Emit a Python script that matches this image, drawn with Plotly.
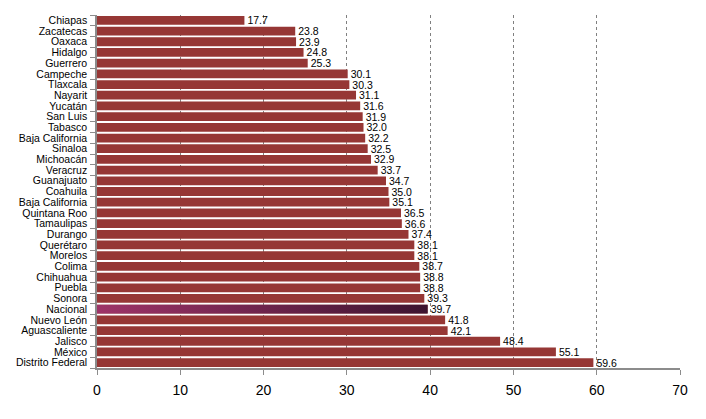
import plotly.graph_objects as go

states = ["Chiapas", "Zacatecas", "Oaxaca", "Hidalgo", "Guerrero", "Campeche", "Tlaxcala",
          "Nayarit", "Yucatán", "San Luis", "Tabasco", "Baja California", "Sinaloa", "Michoacán",
          "Veracruz", "Guanajuato", "Coahuila", "Baja California", "Quintana Roo", "Tamaulipas",
          "Durango", "Querétaro", "Morelos", "Colima", "Chihuahua", "Puebla", "Sonora",
          "Nacional", "Nuevo León", "Aguascaliente", "Jalisco", "México", "Distrito Federal"]
values = [17.7, 23.8, 23.9, 24.8, 25.3, 30.1, 30.3, 31.1, 31.6, 31.9, 32.0, 32.2, 32.5, 32.9,
          33.7, 34.7, 35.0, 35.1, 36.5, 36.6, 37.4, 38.1, 38.1, 38.7, 38.8, 38.8, 39.3,
          39.7, 41.8, 42.1, 48.4, 55.1, 59.6]
highlight = "Nacional"

idx = list(range(len(states)))
BAR_W = 0.82
base_color = "#963735"
FONT = "Liberation Sans, Arial"

fig = go.Figure()
fig.add_trace(go.Bar(
    x=values, y=idx, orientation="h", width=BAR_W,
    marker=dict(color=base_color, line=dict(width=0)),
    text=[f"{v:.1f}" for v in values], textposition="outside",
    constraintext="none",
    textfont=dict(family=FONT, size=10.5, color="black"),
    cliponaxis=False, hoverinfo="skip", showlegend=False,
))

# gradient overlay for the highlighted bar
hi = states.index(highlight)
hv = values[hi]
fig.add_trace(go.Scatter(
    x=[0, hv, hv, 0, 0],
    y=[hi - BAR_W / 2, hi - BAR_W / 2, hi + BAR_W / 2, hi + BAR_W / 2, hi - BAR_W / 2],
    mode="lines", line=dict(width=0), fill="toself",
    fillgradient=dict(type="horizontal", colorscale=[[0, "#9e3468"], [1, "#3d1430"]]),
    hoverinfo="skip", showlegend=False,
))

fig.update_layout(
    width=698, height=411,
    margin=dict(l=89, r=26, t=7, b=51),
    paper_bgcolor="white", plot_bgcolor="white",
    font=dict(family=FONT, color="black"),
)
fig.update_xaxes(
    range=[0, 70], dtick=10, tick0=0, automargin=False,
    showgrid=True, gridcolor="#808080", griddash="3px,3px", gridwidth=1,
    zeroline=False, showline=True, linecolor="#8c8c8c", linewidth=1.5,
    ticks="outside", ticklen=5, tickcolor="#8c8c8c", ticklabelstandoff=3,
    tickfont=dict(size=14, family=FONT),
)
fig.update_yaxes(
    range=[len(states) - 0.5, -0.5], automargin=False,
    tickmode="array", tickvals=idx, ticktext=states,
    showgrid=False, zeroline=False,
    showline=True, linecolor="#8c8c8c", linewidth=1.5,
    ticks="", ticklabelstandoff=6, tickfont=dict(size=10.5, family=FONT),
    minor=dict(tickmode="linear", tick0=0.5, dtick=1, ticks="outside", ticklen=5,
               tickcolor="#8c8c8c", showgrid=False),
)

fig.write_html("out.html")
